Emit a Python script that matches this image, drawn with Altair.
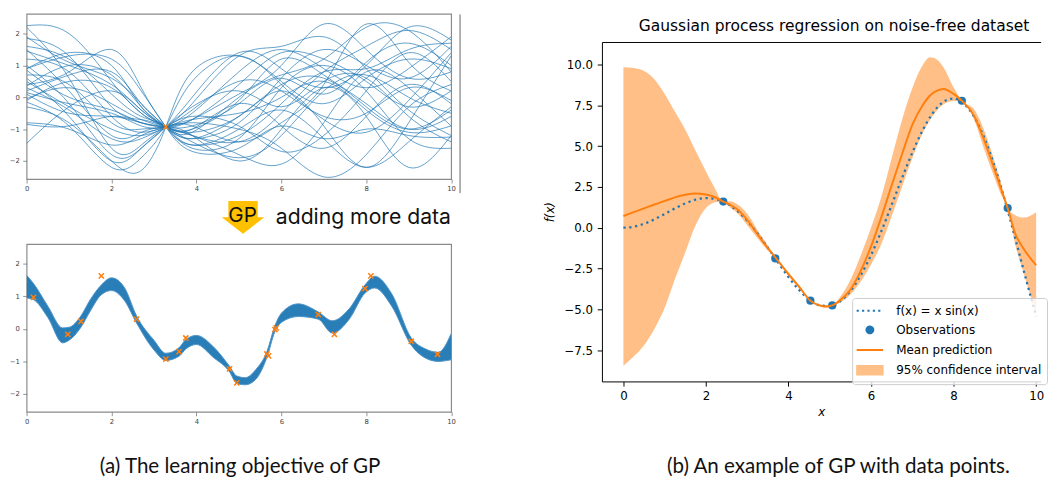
import altair as alt
import pandas as pd

# ---------------- panel (a), top: GP samples conditioned on a single point ----------------
TOP_X = [0, 1, 2, 2.7, 3.28, 3.9, 5, 6, 7, 8, 9, 10]
TOP_CURVES = [
    [2.25, 2.0, 0.5, -0.5, -0.93, -1.2, -1.4, -0.5, 0.8, 1.6, 2.1, 1.5],
    [2.2, 0.6, -1.6, -1.5, -0.93, -0.2, 1.3, 1.6, 1.9, 0.9, -0.4, -1.2],
    [1.85, 1.3, -0.3, -0.7, -0.93, -1.1, -0.6, 0.2, -0.9, -2.2, -0.8, 1.3],
    [1.5, 0.2, -1.2, -1.1, -0.93, -0.7, 0.1, 1.0, 2.3, 1.5, 0.6, 0.8],
    [1.45, 1.0, 0.4, -0.4, -0.93, -1.4, -1.9, -1.2, 0.2, 0.7, 0.0, -0.5],
    [1.0, -0.2, -1.8, -1.6, -0.93, 0.0, 1.4, 0.9, 0.3, 1.0, 2.2, 1.8],
    [0.9, 1.4, 1.0, -0.3, -0.93, -1.3, -0.6, 0.4, 0.6, -0.3, -1.0, -0.4],
    [0.7, 0.4, -0.8, -1.0, -0.93, -0.8, -1.0, -1.6, -2.5, -1.8, -0.3, 0.4],
    [0.4, 0.8, 1.5, 0.3, -0.93, -1.5, -1.2, -0.2, 0.8, 0.9, 1.5, 1.7],
    [0.3, -0.4, -1.3, -1.3, -0.93, -0.4, 0.5, 0.2, -0.6, -0.5, 0.3, -0.1],
    [0.2, 0.7, 0.8, -0.2, -0.93, -1.6, -1.3, 0.3, 1.0, 0.2, -1.3, -1.6],
    [0.1, -0.5, -0.6, -0.8, -0.93, -0.9, -0.2, 0.6, 0.1, 1.1, 1.7, 1.0],
    [-0.1, 0.5, 0.3, -0.5, -0.93, -1.0, -0.2, -0.9, -1.6, -0.6, 0.4, -0.2],
    [-0.15, -0.9, -2.2, -1.9, -0.93, 0.5, 1.3, 0.4, -0.7, -1.1, -0.1, 1.4],
    [-0.8, -1.0, -1.5, -1.2, -0.93, -0.9, -1.4, -0.8, 0.4, 2.3, 1.1, 0.2],
    [-1.45, -0.3, 0.2, -0.4, -0.93, -1.0, -0.1, 1.2, 0.7, -0.2, -1.0, -0.6],
    [0.85, 0.0, -0.4, -0.8, -0.93, -1.2, -2.0, -1.0, 0.3, -0.6, -2.2, -1.2],
    [1.2, 0.8, -0.6, -1.1, -0.93, -0.5, 0.8, 1.5, 0.9, 0.3, 0.9, 1.9],
    [0.5, -0.3, -1.0, -1.2, -0.93, -0.6, -0.9, -1.7, -1.2, 0.2, 1.4, 0.5],
    [-0.05, 0.3, -0.2, -0.7, -0.93, -1.2, -1.8, -2.1, -0.8, 0.8, 0.3, -0.9],
    [0.6, -0.6, -2.0, -1.6, -0.93, -0.3, 0.2, -0.3, 0.5, 0.6, -0.6, -1.4],
    [1.6, 1.2, 0.1, -0.6, -0.93, -1.5, -1.0, -0.4, -1.3, -2.2, -1.4, -0.3],
    [0.35, 1.0, 0.7, -0.3, -0.93, -1.1, 0.0, 0.7, 1.2, 2.2, 2.1, 0.8],
    [-0.3, -0.8, -2.0, -2.3, -0.93, 0.8, 1.3, 0.5, -0.2, 0.6, 1.2, 0.9],
    [1.9, 1.1, 0.6, -0.2, -0.93, -1.3, -0.8, 0.6, 1.5, 1.0, 0.6, 1.6],
    [0.15, -0.2, -0.5, -0.9, -0.93, -0.7, -0.5, 0.0, 0.5, -0.4, -1.1, -0.9],
    [0.9, 1.3, 1.2, 0.2, -0.93, -1.7, -1.6, -0.9, -1.3, -1.0, -1.2, -1.25],
    [-0.85, -0.9, -0.6, -0.8, -0.93, -0.7, 0.4, 1.4, 1.2, 0.5, -0.3, 0.2],
]
TOP_OBS_X = [3.28]
TOP_OBS_Y = [-0.93]

# ---------------- panel (a), bottom: posterior samples (ribbon) and observations ----------------
BOT_X = [0, 0.16, 0.5, 0.85, 1.0, 1.28, 1.5, 1.76, 2.0, 2.3, 2.59, 3.0, 3.28, 3.59, 3.75,
         4.0, 4.4, 4.78, 4.95, 5.15, 5.4, 5.66, 5.85, 6.0, 6.4, 6.87, 7.2, 7.6, 7.97, 8.2,
         8.6, 9.06, 9.4, 9.7, 10.0]
BOT_HI = [1.65, 1.4, 0.7, 0.03, 0.05, 0.4, 0.9, 1.35, 1.57, 1.28, 0.4, -0.35, -0.75, -0.58, -0.33,
          -0.2, -0.55, -1.15, -1.45, -1.5, -1.25, -0.7, 0.1, 0.48, 0.77, 0.52, 0.25, 0.62, 1.35, 1.62,
          1.08, -0.28, -0.62, -0.72, -0.15]
BOT_LO = [0.95, 0.9, 0.35, -0.43, -0.35, 0.05, 0.55, 1.05, 1.18, 0.88, 0.18, -0.65, -0.97, -0.84, -0.62,
          -0.48, -0.88, -1.32, -1.68, -1.72, -1.55, -0.88, -0.08, 0.2, 0.38, 0.3, -0.13, 0.3, 1.1, 1.26,
          0.7, -0.5, -0.9, -1.0, -0.95]
BOT_OBS_X = [0.16, 0.97, 1.28, 1.76, 2.59, 3.28, 3.59, 3.75, 4.78, 4.95, 5.66, 5.70, 5.85, 5.88,
             6.87, 7.25, 7.97, 8.11, 9.06, 9.68]
BOT_OBS_Y = [0.97, -0.17, 0.23, 1.63, 0.30, -0.93, -0.70, -0.28, -1.23, -1.66, -0.77, -0.83, -0.02, 0.03,
             0.44, -0.17, 1.24, 1.63, -0.38, -0.78]

# ---------------- panel (b): GP regression on noise-free data ----------------
R_X = [0, 0.25, 0.5, 0.75, 1.0, 1.25, 1.5, 1.75, 2.0, 2.2, 2.42, 2.6, 2.75, 3.0, 3.25,
       3.5, 3.7, 4.0, 4.25, 4.53, 4.75, 4.9, 5.06, 5.25, 5.5, 5.75, 6.0, 6.25, 6.5, 6.75,
       7.0, 7.25, 7.43, 7.6, 7.75, 8.0, 8.2, 8.5, 8.75, 9.0, 9.13, 9.31, 9.5, 9.7, 10.0]
R_MEAN = [0.72, 0.95, 1.18, 1.42, 1.64, 1.86, 2.02, 2.1, 2.03, 1.88, 1.6, 1.38, 1.15, 0.48, -0.4,
          -1.25, -1.88, -2.85, -3.6, -4.47, -4.76, -4.83, -4.76, -4.45, -3.8, -2.65, -1.15, 0.65, 2.6, 4.5,
          6.3, 7.5, 8.1, 8.4, 8.5, 8.2, 7.78, 6.84, 5.3, 3.5, 2.54, 1.2, -0.4, -1.3, -2.3]
R_UPPER = [9.84, 9.78, 9.6, 9.1, 8.2, 7.1, 6.0, 4.7, 3.45, 2.5, 1.6, 1.62, 1.45, 0.85, -0.15,
           -1.1, -1.88, -2.75, -3.5, -4.47, -4.7, -4.74, -4.76, -4.25, -3.2, -1.7, 0.0, 1.9, 4.25, 6.6,
           8.55, 9.95, 10.44, 10.3, 9.85, 8.6, 7.78, 7.24, 5.9, 4.0, 2.94, 1.2, 0.75, 0.62, 0.95]
R_LOWER = [-8.46, -7.9, -7.2, -6.2, -4.9, -3.15, -1.5, 0.15, 1.2, 1.55, 1.6, 1.2, 0.92, 0.15, -0.65,
           -1.4, -1.88, -2.95, -3.7, -4.47, -4.82, -4.9, -4.76, -4.6, -4.1, -3.3, -2.25, -1.0, 0.7, 2.5,
           4.25, 5.8, 6.6, 7.2, 7.55, 7.76, 7.78, 6.6, 4.75, 3.0, 2.14, 1.2, -1.1, -2.8, -5.3]
TRUE_X = [0, 0.25, 0.5, 0.75, 1.0, 1.25, 1.5, 1.75, 2.0, 2.25, 2.5, 2.75, 3.0, 3.25, 3.5, 3.75,
          4.0, 4.25, 4.5, 4.75, 5.0, 5.25, 5.5, 5.75, 6.0, 6.25, 6.5, 6.75, 7.0, 7.25, 7.5, 7.75,
          8.0, 8.25, 8.5, 8.75, 9.0, 9.25, 9.5, 9.75, 10.0]
TRUE_Y = [0.0, 0.062, 0.240, 0.511, 0.841, 1.186, 1.496, 1.722, 1.819, 1.751, 1.496, 1.050, 0.423,
          -0.352, -1.228, -2.144, -3.027, -3.804, -4.399, -4.747, -4.795, -4.509, -3.880, -2.912,
          -1.676, -0.208, 1.398, 3.038, 4.599, 5.967, 7.035, 7.708, 7.915, 7.597, 6.787, 5.465,
          3.709, 1.612, -0.714, -3.115, -5.440]
OBS_X = [2.42, 3.68, 4.53, 5.06, 8.2, 9.31]
OBS_Y = [1.6, -1.88, -4.47, -4.76, 7.78, 1.2]
LEGEND_LABELS = ["f(x) = x sin(x)", "Observations", "Mean prediction", "95% confidence interval"]

# ---------------- shapes ----------------
XMARK = "M-1,-1L1,1M-1,1L1,-1"
ARROW = "M-0.69,-0.77L0.69,-0.77L0.69,0L1,0L0,0.77L-1,0L-0.69,0Z"
SYM_LINE = "M-1.93,0H1.93"
SYM_CIRC = "M0.5,0A0.5,0.5,0,1,1,-0.5,0A0.5,0.5,0,1,1,0.5,0Z"
SYM_RECT = "M-1.86,-0.61H1.86V0.61H-1.86Z"

W_L, H_T, H_B = 433.5, 168.7, 171.3
W_R, H_R = 448, 346.6
one = pd.DataFrame({"k": [0]})


def left_axis(values, pad):
    return alt.Axis(values=values, labelFont="DejaVu Sans", labelFontSize=7, labelColor="#444444",
                    tickColor="#777777", tickSize=4, tickWidth=0.8, labelPadding=pad, domain=False,
                    grid=False, title=None, labelFlush=False)


sx_l = alt.Scale(domain=[0, 10], nice=False, zero=False)
sy_t = alt.Scale(domain=[-2.57, 2.62], nice=False, zero=False)
sy_b = alt.Scale(domain=[-2.55, 2.61], nice=False, zero=False)

# ---- top-left ----
top_df = pd.DataFrame([{"x": x, "y": y, "curve": i}
                       for i, c in enumerate(TOP_CURVES) for x, y in zip(TOP_X, c)])
top_lines = alt.Chart(top_df).mark_line(interpolate="natural", clip=True, strokeWidth=1,
                                        color="#1f77b4", opacity=0.7).encode(
    x=alt.X("x:Q", scale=sx_l, axis=left_axis([0, 2, 4, 6, 8, 10], 1.5)),
    y=alt.Y("y:Q", scale=sy_t, axis=left_axis([-2, -1, 0, 1, 2], 3.5)),
    detail="curve:N")
top_obs = alt.Chart(pd.DataFrame({"x": TOP_OBS_X, "y": TOP_OBS_Y})).mark_point(
    shape=XMARK, size=28, strokeWidth=1.6, color="#ff7f0e", filled=False, opacity=1).encode(
    x=alt.X("x:Q", scale=sx_l, axis=None), y=alt.Y("y:Q", scale=sy_t, axis=None))
edge_rule = alt.Chart(one).mark_rule(color="#666666", strokeWidth=1).encode(
    x=alt.value(442.6), y=alt.value(0.5), y2=alt.value(183))
arrow = alt.Chart(one).mark_point(shape=ARROW, size=1884, filled=True, color="#FFC000",
                                  opacity=1, strokeWidth=0).encode(x=alt.value(221), y=alt.value(207.7))
gp_txt = alt.Chart(one).mark_text(text="GP", font="Inter", fontSize=21, color="#111111",
                                  align="center", baseline="middle").encode(
    x=alt.value(220.5), y=alt.value(206.5))
add_txt = alt.Chart(one).mark_text(text="adding more data", font="Inter", fontSize=21.6,
                                   color="#111111", align="left", baseline="alphabetic").encode(
    x=alt.value(254.5), y=alt.value(214.3))
top = alt.layer(top_lines, top_obs, edge_rule, arrow, gp_txt, add_txt).resolve_axis(
    x="independent", y="independent").properties(width=W_L, height=H_T)

# ---- bottom-left ----
bot_df = pd.DataFrame({"x": BOT_X, "hi": BOT_HI, "lo": BOT_LO})
ribbon = alt.Chart(bot_df).mark_area(interpolate="monotone", clip=True, color="#1f77b4",
                                     opacity=0.95).encode(
    x=alt.X("x:Q", scale=sx_l, axis=left_axis([0, 2, 4, 6, 8, 10], 1.5)),
    y=alt.Y("lo:Q", scale=sy_b, axis=left_axis([-2, -1, 0, 1, 2], 3.5)),
    y2="hi:Q")
rib_hi = alt.Chart(bot_df).mark_line(interpolate="monotone", clip=True, color="#4f93c8",
                                     strokeWidth=1).encode(
    x=alt.X("x:Q", scale=sx_l, axis=None), y=alt.Y("hi:Q", scale=sy_b, axis=None))
rib_lo = alt.Chart(bot_df).mark_line(interpolate="monotone", clip=True, color="#4f93c8",
                                     strokeWidth=1).encode(
    x=alt.X("x:Q", scale=sx_l, axis=None), y=alt.Y("lo:Q", scale=sy_b, axis=None))
bot_obs = alt.Chart(pd.DataFrame({"x": BOT_OBS_X, "y": BOT_OBS_Y})).mark_point(
    shape=XMARK, size=28, strokeWidth=1.6, color="#ff7f0e", filled=False, opacity=1).encode(
    x=alt.X("x:Q", scale=sx_l, axis=None), y=alt.Y("y:Q", scale=sy_b, axis=None))
cap_a = alt.Chart(one).mark_text(text="(a) The learning objective of GP", font="Lato",
                                 fontSize=21, color="#111111", align="center",
                                 baseline="middle").encode(x=alt.value(218), y=alt.value(228.3))
bottom = alt.layer(ribbon, rib_hi, rib_lo, bot_obs, cap_a).resolve_axis(
    x="independent", y="independent").properties(width=W_L, height=H_B)

left_col = alt.vconcat(top, bottom, spacing=66, bounds="flush")

# ---- right panel ----
sx_r = alt.Scale(domain=[-0.52, 10.11], nice=False, zero=False)
sy_r = alt.Scale(domain=[-9.42, 11.38], nice=False, zero=False)
r_df = pd.DataFrame({"x": R_X, "mean": R_MEAN, "hi": R_UPPER, "lo": R_LOWER})
axis_rx = alt.Axis(values=[0, 2, 4, 6, 8, 10], format="d", title="x", titleFontStyle="italic",
                   titleFont="DejaVu Sans", titleFontSize=12, titleFontWeight="normal",
                   titleColor="#000000", titlePadding=5, labelFont="DejaVu Sans", labelFontSize=12,
                   labelColor="#000000", tickColor="#000000", tickSize=4.8, labelPadding=4.9,
                   domainColor="#000000", domainWidth=1, grid=False, labelFlush=False)
axis_ry = alt.Axis(values=[-7.5, -5, -2.5, 0, 2.5, 5, 7.5, 10], format=".1f", title="f(x)",
                   titleFontStyle="italic", titleFont="DejaVu Sans", titleFontSize=12,
                   titleFontWeight="normal", titleColor="#000000", titlePadding=8,
                   labelFont="DejaVu Sans", labelFontSize=12, labelColor="#000000",
                   tickColor="#000000", tickSize=4.8, labelPadding=4.9, domainColor="#000000",
                   domainWidth=1, grid=False)
obs = alt.Chart(pd.DataFrame({"x": OBS_X, "y": OBS_Y})).mark_circle(
    color="#1f77b4", size=70, opacity=1).encode(
    x=alt.X("x:Q", scale=sx_r, axis=axis_rx), y=alt.Y("y:Q", scale=sy_r, axis=axis_ry))
band = alt.Chart(r_df).mark_area(interpolate="monotone", clip=True, color="#ff7f0e",
                                 opacity=0.5).encode(
    x=alt.X("x:Q", scale=sx_r, axis=None), y=alt.Y("lo:Q", scale=sy_r, axis=None), y2="hi:Q")
truth = alt.Chart(pd.DataFrame({"x": TRUE_X, "y": TRUE_Y})).mark_line(
    interpolate="monotone", clip=True, color="#1f77b4", strokeWidth=2.3,
    strokeDash=[2.3, 3.7]).encode(
    x=alt.X("x:Q", scale=sx_r, axis=None), y=alt.Y("y:Q", scale=sy_r, axis=None))
mean = alt.Chart(r_df).mark_line(interpolate="monotone", clip=True, color="#ff7f0e",
                                 strokeWidth=2).encode(
    x=alt.X("x:Q", scale=sx_r, axis=None), y=alt.Y("mean:Q", scale=sy_r, axis=None))

LEG = alt.Legend(title=None, orient="none", legendX=255.5, legendY=261.4,
                 fillColor="rgba(255,255,255,0.8)", strokeColor="#cccccc", cornerRadius=3,
                 padding=5, symbolSize=196, symbolStrokeWidth=2, symbolOffset=5.1,
                 labelOffset=18.9, labelFont="DejaVu Sans", labelFontSize=12.2,
                 labelColor="#000000", rowPadding=4.6, labelLimit=400)
leg_df = pd.DataFrame({"series": LEGEND_LABELS, "x": [-5] * 4, "y": [0] * 4})
legend_layer = alt.Chart(leg_df).mark_point(clip=True, strokeWidth=2, opacity=1).encode(
    x=alt.X("x:Q", scale=sx_r, axis=alt.Axis(orient="top", labels=False, ticks=False,
                                              domain=True, domainColor="#000000",
                                              title=None, grid=False)),
    y=alt.Y("y:Q", scale=sy_r, axis=None),
    fill=alt.Fill("series:N", scale=alt.Scale(domain=LEGEND_LABELS,
                  range=["transparent", "#1f77b4", "transparent", "#ffbf86"]), legend=LEG),
    stroke=alt.Stroke("series:N", scale=alt.Scale(domain=LEGEND_LABELS,
                      range=["#1f77b4", "#1f77b4", "#ff7f0e", "#ffbf86"]), legend=LEG),
    shape=alt.Shape("series:N", scale=alt.Scale(domain=LEGEND_LABELS,
                    range=[SYM_LINE, SYM_CIRC, SYM_LINE, SYM_RECT]), legend=LEG),
    strokeDash=alt.StrokeDash("series:N", scale=alt.Scale(domain=LEGEND_LABELS,
                              range=[[2.2, 3.3], [1, 0], [1, 0], [1, 0]]), legend=LEG),
)
cap_b = alt.Chart(one).mark_text(text="(b) An example of GP with data points.", font="Lato",
                                 fontSize=21, color="#111111", align="center",
                                 baseline="middle").encode(x=alt.value(241.5), y=alt.value(434.3))

right = alt.layer(obs, band, truth, mean, legend_layer, cap_b).resolve_axis(
    x="independent", y="independent").properties(
    width=W_R, height=H_R,
    title=alt.Title("Gaussian process regression on noise-free dataset", font="DejaVu Sans",
                    fontSize=15.8, fontWeight="normal", color="#000000", anchor="middle",
                    frame="group", offset=7, dx=13),
    view=alt.ViewBackground(stroke="transparent"))

spacer = alt.Chart(one).mark_point(opacity=0, size=1).encode(
    x=alt.value(0), y=alt.value(2)).properties(
    width=W_R, height=1, view=alt.ViewBackground(stroke="transparent"))

right_col = alt.vconcat(spacer, right, spacing=27.7, bounds="flush").resolve_legend(
    fill="independent", stroke="independent", shape="independent", strokeDash="independent")

chart = alt.hconcat(left_col, right_col, spacing=82.5).resolve_legend(
    fill="independent", stroke="independent", shape="independent", strokeDash="independent"
).properties(
    padding={"left": 0, "top": 0, "right": 0, "bottom": 0}, background="white"
).configure_view(stroke="#8a8a8a", strokeWidth=1.2)

chart.save("out.html", embed_options={"renderer": "svg", "actions": False})
